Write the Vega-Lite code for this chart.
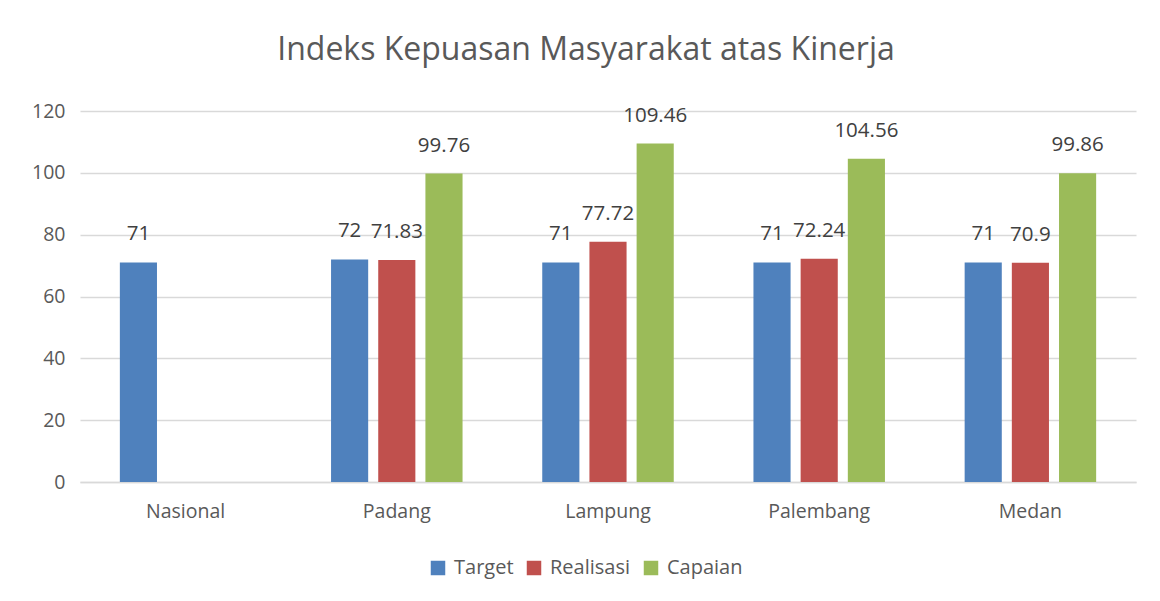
{
  "$schema": "https://vega.github.io/schema/vega-lite/v6.json",
  "autosize": {"type": "none"},
  "width": 1056,
  "height": 371,
  "padding": {"left": 80, "top": 111, "right": 24, "bottom": 119},
  "background": "white",
  "config": {"view": {"stroke": null}},
  "title": {
    "text": "Indeks Kepuasan Masyarakat atas Kinerja",
    "font": "Open Sans",
    "fontSize": 32,
    "fontWeight": "normal",
    "color": "#595959",
    "anchor": "middle",
    "offset": 34,
    "dx": -22
  },
  "data": {
    "values": [
      {"kota": "Nasional", "seri": "Target", "nilai": 71, "label": "71"},
      {"kota": "Padang", "seri": "Target", "nilai": 72, "label": "72"},
      {"kota": "Padang", "seri": "Realisasi", "nilai": 71.83, "label": "71.83"},
      {"kota": "Padang", "seri": "Capaian", "nilai": 99.76, "label": "99.76"},
      {"kota": "Lampung", "seri": "Target", "nilai": 71, "label": "71"},
      {"kota": "Lampung", "seri": "Realisasi", "nilai": 77.72, "label": "77.72"},
      {"kota": "Lampung", "seri": "Capaian", "nilai": 109.46, "label": "109.46"},
      {"kota": "Palembang", "seri": "Target", "nilai": 71, "label": "71"},
      {"kota": "Palembang", "seri": "Realisasi", "nilai": 72.24, "label": "72.24"},
      {"kota": "Palembang", "seri": "Capaian", "nilai": 104.56, "label": "104.56"},
      {"kota": "Medan", "seri": "Target", "nilai": 71, "label": "71"},
      {"kota": "Medan", "seri": "Realisasi", "nilai": 70.9, "label": "70.9"},
      {"kota": "Medan", "seri": "Capaian", "nilai": 99.86, "label": "99.86"}
    ]
  },
  "encoding": {
    "x": {
      "field": "kota",
      "type": "nominal",
      "sort": ["Nasional", "Padang", "Lampung", "Palembang", "Medan"],
      "scale": {"paddingInner": 0.33, "paddingOuter": 0.165},
      "axis": {
        "title": null,
        "labelAngle": 0,
        "labelFont": "Open Sans",
        "labelFontSize": 19.5,
        "labelColor": "#595959",
        "labelPadding": 20,
        "ticks": false,
        "domainColor": "#d9d9d9",
        "domainWidth": 1.5,
        "grid": false
      }
    },
    "xOffset": {
      "field": "seri",
      "type": "nominal",
      "sort": ["Target", "Realisasi", "Capaian"],
      "scale": {"paddingInner": 0.213, "paddingOuter": 0.106}
    },
    "y": {
      "field": "nilai",
      "type": "quantitative",
      "scale": {"domain": [0, 120], "nice": false},
      "axis": {
        "title": null,
        "values": [0, 20, 40, 60, 80, 100, 120],
        "labelFont": "Open Sans",
        "labelFontSize": 19.5,
        "labelColor": "#595959",
        "labelPadding": 15,
        "ticks": false,
        "domain": false,
        "gridColor": "#d9d9d9",
        "gridWidth": 1.5
      }
    }
  },
  "layer": [
    {
      "mark": {"type": "bar"},
      "encoding": {
        "color": {
          "field": "seri",
          "type": "nominal",
          "sort": ["Target", "Realisasi", "Capaian"],
          "scale": {"domain": ["Target", "Realisasi", "Capaian"], "range": ["#4F81BD", "#C0504D", "#9BBB59"]},
          "legend": {
            "title": null,
            "orient": "none",
            "direction": "horizontal",
            "legendX": 348,
            "legendY": 447,
            "symbolType": "square",
            "symbolSize": 210,
            "symbolStrokeWidth": 0,
            "labelFont": "Open Sans",
            "labelFontSize": 20,
            "labelColor": "#595959",
            "labelOffset": 6,
            "columnPadding": 10
          }
        }
      }
    },
    {
      "mark": {"type": "text", "baseline": "middle", "dy": -28, "font": "Open Sans", "fontSize": 20.5, "color": "#404040"},
      "encoding": {"text": {"field": "label"}}
    }
  ]
}
